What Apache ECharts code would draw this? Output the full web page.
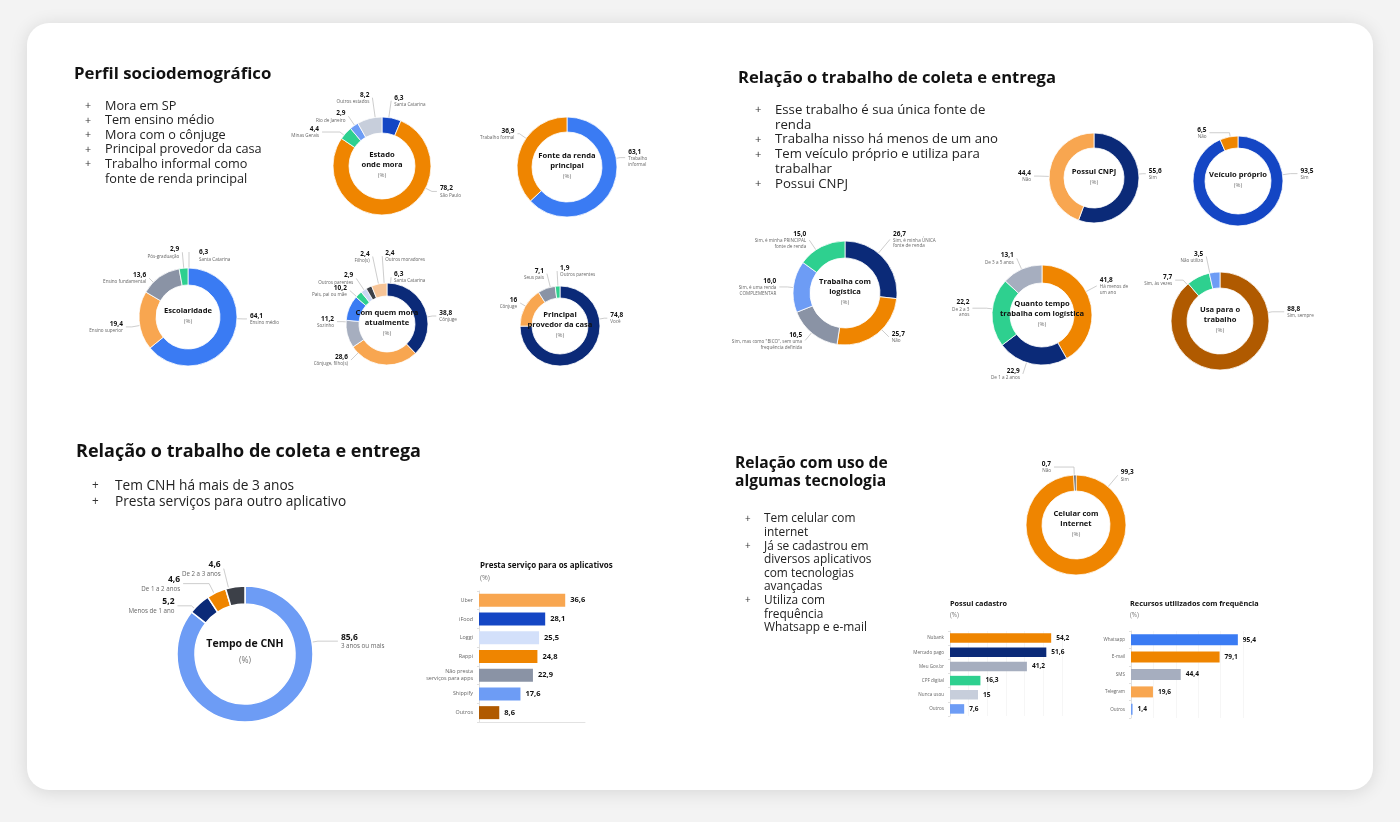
<!DOCTYPE html>
<html><head><meta charset="utf-8">
<script src="https://cdn.jsdelivr.net/npm/echarts@6/dist/echarts.min.js"></script>
<style>html,body{margin:0;padding:0;background:#f3f3f3;}#main{width:1400px;height:822px;}</style>
</head><body><div id="main"></div>
<script>
// ---------- DATA ----------
const estadoCats = ['Santa Catarina','São Paulo','Minas Gerais','Rio de Janeiro','Outros estados'];
const estadoVals = [6.3, 78.2, 4.4, 2.9, 8.2];
const rendaCats = ['Trabalho\ninformal','Trabalho formal'];
const rendaVals = [63.1, 36.9];
const escolCats = ['Ensino médio','Ensino superior','Ensino fundamental','Pós-graduação'];
const escolVals = [64.1, 19.4, 13.6, 2.9];
const escolStrayLabel = ['6,3','Santa Catarina'];
const moraCats = ['Cônjuge','Cônjuge, filho(s)','Sozinho','Pais, pai ou mãe','Outros parentes','Filho(s)','Outros moradores','Santa Catarina'];
const moraVals = [38.8, 28.6, 11.2, 10.2, 2.9, 2.4, 2.4, 6.3];
const provCats = ['Você','Cônjuge','Seus pais','Outros parentes'];
const provVals = [74.8, 16, 7.1, 1.9];
const cnpjCats = ['Sim','Não'];
const cnpjVals = [55.6, 44.4];
const veicCats = ['Sim','Não'];
const veicVals = [93.5, 6.5];
const logCats = ['Sim, é minha ÚNICA\nfonte de renda','Não','Sim, mas como "BICO", sem uma\nfrequência definida','Sim, é uma renda\nCOMPLEMENTAR','Sim, é minha PRINCIPAL\nfonte de renda'];
const logVals = [26.7, 25.7, 16.5, 16.0, 15.0];
const tempoCats = ['Há menos de\num ano','De 1 a 2 anos','De 2 a 3\nanos','De 3 a 5 anos'];
const tempoVals = [41.8, 22.9, 22.2, 13.1];
const usaCats = ['Sim, sempre','Sim, às vezes','Não utilizo'];
const usaVals = [88.8, 7.7, 3.5];
const celCats = ['Sim','Não'];
const celVals = [99.3, 0.7];
const cnhCats = ['3 anos ou mais','Menos de 1 ano','De 1 a 2 anos','De 2 a 3 anos'];
const cnhVals = [85.6, 5.2, 4.6, 4.6];

const appsCats = ['Uber','iFood','Loggi','Rappi','Não presta\nserviços para apps','Shippify','Outros'];
const appsVals = [36.6, 28.1, 25.5, 24.8, 22.9, 17.6, 8.6];
const cadCats = ['Nubank','Mercado pago','Meu Gov.br','CPF digital','Nunca usou','Outros'];
const cadVals = [54.2, 51.6, 41.2, 16.3, 15, 7.6];
const recCats = ['Whatsapp','E-mail','SMS','Telegram','Outros'];
const recVals = [95.4, 79.1, 44.4, 19.6, 1.4];

const bullets1 = ['Mora em SP','Tem ensino médio','Mora com o cônjuge','Principal provedor da casa','Trabalho informal como\nfonte de renda principal'];
const bullets2 = ['Esse trabalho é sua única fonte de\nrenda','Trabalha nisso há menos de um ano','Tem veículo próprio e utiliza para\ntrabalhar','Possui CNPJ'];
const bullets3 = ['Tem CNH há mais de 3 anos','Presta serviços para outro aplicativo'];
const bullets4 = ['Tem celular com\ninternet','Já se cadastrou em\ndiversos aplicativos\ncom tecnologias\navançadas','Utiliza com\nfrequência\nWhatsapp e e-mail'];

// ---------- STYLE ----------
const C = {
  orange:'#EF8500', orangeL:'#F8A650', navy:'#0B2A78', royal:'#1446C4', blue:'#3A7BF3',
  lblue:'#6D9CF5', gray:'#8A93A5', grayL:'#A6AEBF', pale:'#C7CEDB', paleBlue:'#D3E0FA',
  green:'#2ED08F', brown:'#B05A00', dark:'#3C4048', peach:'#F6C497', vpale:'#C9D7F4'
};
const FONT = '"Open Sans", "Noto Sans", sans-serif';
const fmt1 = v => v.toFixed(1).replace('.', ',');
const fmtRaw = v => String(v).replace('.', ',');

// label placement style: [angle clockwise from 12h, radial gap, horizontal run, forced side]
function makeLabelLayout(L) {
  return function (params) {
    const s = L.ls && L.ls[params.dataIndex];
    if (!s) return {};
    const [th, d, h, mode] = s;
    const a = th * Math.PI / 180, R = L.r[1], cx = L.c[0], cy = L.c[1];
    const p0 = [cx + R * Math.sin(a), cy - R * Math.cos(a)];
    const p1 = [cx + (R + d) * Math.sin(a), cy - (R + d) * Math.cos(a)];
    const right = mode ? mode === 'l' : Math.sin(a) >= 0;
    const p2 = [p1[0] + (right ? h : -h), p1[1]];
    return { x: p2[0] + (right ? 3 : -3), y: p2[1], align: right ? 'left' : 'right', verticalAlign: 'middle', labelLinePoints: [p0, p1, p2] };
  };
}

function donut(cats, vals, L) {
  const big = L.big;
  return {
    type: 'pie', center: L.c, radius: L.r, startAngle: 90, clockwise: true,
    avoidLabelOverlap: false, silent: true, animation: false,
    itemStyle: { borderColor: '#fff', borderWidth: big ? 1.5 : 0.8 },
    label: {
      show: true, position: 'outside', fontFamily: FONT,
      formatter: p => '{v|' + (L.fmt || fmt1)(p.value) + '}\n{n|' + p.name + '}',
      rich: {
        v: { fontSize: big ? 8.5 : 6.5, fontWeight: 'bold', color: '#111', lineHeight: big ? 11 : 8, fontFamily: FONT },
        n: { fontSize: big ? 6.2 : 4.6, color: '#666', lineHeight: big ? 8 : 5.6, fontFamily: FONT }
      }
    },
    labelLine: { show: true, length: 6, length2: 6, lineStyle: { color: '#b8b8b8', width: 0.7 } },
    labelLayout: makeLabelLayout(L),
    data: cats.map((n, i) => ({ name: n, value: vals[i], itemStyle: { color: L.colors[i] } }))
  };
}

const pies = [
  [estadoCats, estadoVals, { c:[382,166], r:[33,49], colors:[C.royal,C.orange,C.green,C.lblue,C.pale], t:['Estado','onde mora'],
     ls:[[8,17,0],[117,7,5],[309,5,18],[326,11,0],[352,20,0]] }],
  [rendaCats, rendaVals, { c:[567,167], r:[35,50], colors:[C.blue,C.orange], t:['Fonte da renda','principal'],
     ls:[[80,4,5],[305,8,2]] }],
  [escolCats, escolVals, { c:[188,317], r:[32,49], colors:[C.blue,C.orangeL,C.gray,C.green], t:['Escolaridade'],
     ls:[[92,6,4],[260,8,6],[315,6,0],[355,16,0]] }],
  [moraCats, moraVals, { c:[387,324], r:[28,41], colors:[C.navy,C.orangeL,C.grayL,C.blue,C.green,C.vpale,C.dark,C.peach], t:['Com quem mora','atualmente'],
     ls:[[80,5,4],[225,10,0],[273,4,5],[312,9,0],[326,14,0],[348,28,0],[356,27,0,'l'],[5,6,0]] }],
  [provCats, provVals, { c:[560,326], r:[28,40], colors:[C.navy,C.orangeL,C.gray,C.green], t:['Principal','provedor da casa'], fmt: fmtRaw,
     ls:[[80,5,3],[300,6,0],[346,14,0],[357,15,0,'l']] }],
  [cnpjCats, cnpjVals, { c:[1094,178], r:[30,45], colors:[C.navy,C.orangeL], t:['Possui CNPJ'],
     ls:[[85,4,3],[272,10,5]] }],
  [veicCats, veicVals, { c:[1238,181], r:[33,45], colors:[C.royal,C.orange], t:['Veículo próprio'],
     ls:[[82,8,7],[350,4,20]] }],
  [logCats, logVals, { c:[845,293], r:[35,52], colors:[C.navy,C.orange,C.gray,C.lblue,C.green], t:['Trabalha com','logística'],
     ls:[[40,18,0],[135,10,0],[220,10,0],[276,6,8],[326,12,0]] }],
  [tempoCats, tempoVals, { c:[1042,315], r:[32,50], colors:[C.orange,C.navy,C.green,C.grayL], t:['Quanto tempo','trabalha com logística'],
     ls:[[62,12,0],[198,12,0],[277,6,14],[336,12,0]] }],
  [usaCats, usaVals, { c:[1220,321], r:[33,49], colors:[C.brown,C.green,C.lblue], t:['Usa para o','trabalho'],
     ls:[[80,4,12],[318,6,8],[348,17,0]] }],
  [celCats, celVals, { c:[1076,525], r:[34,50], colors:[C.orange,C.dark], t:['Celular com','internet'],
     ls:[[40,15,0],[358,8,20]] }],
  [cnhCats, cnhVals, { c:[245,654], r:[50,68], colors:[C.lblue,C.navy,C.orange,C.dark], t:['Tempo de CNH'], big:true,
     ls:[[80,6,20],[312,4,14],[333,11,26],[346,20,0]] }]
];

// ---------- GRAPHICS ----------
const G = [];
G.push({ type:'rect', shape:{x:27,y:23,width:1346,height:767,r:22}, style:{fill:'#fff', shadowBlur:18, shadowColor:'rgba(0,0,0,0.12)', shadowOffsetY:2}, z:-10 });
function txt(x, y, s, st) { G.push({ type:'text', x, y, style: Object.assign({ text:s, fontFamily:FONT, fill:'#111' }, st) }); }
function heading(x, y, s, fs) { txt(x, y, s, { fontSize: fs || 16.5, fontWeight:'bold', textVerticalAlign:'middle' }); }
function bulletList(xb, xt, y0, lh, items, fs) {
  let y = y0;
  items.forEach(it => {
    txt(xb, y, '+', { fontSize: fs - 2, fill:'#333', textVerticalAlign:'middle' });
    it.split('\n').forEach(line => { txt(xt, y, line, { fontSize: fs, fill:'#222', textVerticalAlign:'middle' }); y += lh; });
  });
}
heading(74, 74, 'Perfil sociodemográfico', 16.8);
bulletList(85, 105, 106, 14.6, bullets1, 12.7);
heading(738, 78, 'Relação o trabalho de coleta e entrega', 16.6);
bulletList(755, 775, 110, 14.8, bullets2, 13.2);
heading(76, 452, 'Relação o trabalho de coleta e entrega', 18);
bulletList(92, 115, 486, 16, bullets3, 13.7);
heading(735, 464, 'Relação com uso de', 15.6);
heading(735, 482, 'algumas tecnologia', 15.6);
bulletList(745, 764, 519, 13.6, bullets4, 11.9);

// donut center titles
pies.forEach(([cats, vals, L]) => {
  const big = L.big;
  const t = L.t.map(s => '{t|' + s + '}').join('\n') + '\n{p|(%)}';
  G.push({ type:'text', x:L.c[0], y:L.c[1], z:10, style:{ text:t, textAlign:'center', textVerticalAlign:'middle', fontFamily:FONT,
    rich:{ t:{ fontSize: big ? 10.5 : 7.6, fontWeight:'bold', fill:'#111', lineHeight: big ? 14 : 9.5, fontFamily:FONT },
           p:{ fontSize: big ? 8.5 : 6, fill:'#777', lineHeight: big ? 20 : 12, fontFamily:FONT } } } });
});
// stray label on Escolaridade
G.push({ type:'polyline', shape:{ points:[[189,268],[189,252]] }, style:{ stroke:'#b8b8b8', lineWidth:0.7, fill:null } });
txt(199, 256, escolStrayLabel[0], { fontSize:6.5, fontWeight:'bold', textVerticalAlign:'bottom' });
txt(199, 257, escolStrayLabel[1], { fontSize:4.6, fill:'#666', textVerticalAlign:'top' });

// bar titles
txt(480, 566, 'Presta serviço para os aplicativos', { fontSize:8, fontWeight:'bold', textVerticalAlign:'middle' });
txt(480, 578, '(%)', { fontSize:7, fill:'#777', textVerticalAlign:'middle' });
txt(950, 604, 'Possui cadastro', { fontSize:7.3, fontWeight:'bold', textVerticalAlign:'middle' });
txt(950, 615, '(%)', { fontSize:6.3, fill:'#777', textVerticalAlign:'middle' });
txt(1130, 604, 'Recursos utilizados com frequência', { fontSize:7.3, fontWeight:'bold', textVerticalAlign:'middle' });
txt(1130, 615, '(%)', { fontSize:6.3, fill:'#777', textVerticalAlign:'middle' });

// ---------- BARS ----------
const grids = [
  { left:479, top:591, width:106, height:131 },
  { left:950, top:631, width:112, height:85 },
  { left:1131, top:631, width:112, height:87 }
];
const barSets = [
  { cats: appsCats, vals: appsVals, max: 45, colors:[C.orangeL,C.royal,C.paleBlue,C.orange,C.gray,C.lblue,C.brown], bw: 13, fmt: fmt1, fs: 7.5, cfs: 5.4 },
  { cats: cadCats, vals: cadVals, max: 60, colors:[C.orange,C.navy,C.grayL,C.green,C.pale,C.lblue], bw: 9.5, fmt: fmtRaw, fs: 6.6, cfs: 4.6 },
  { cats: recCats, vals: recVals, max: 100, colors:[C.blue,C.orange,C.grayL,C.orangeL,C.lblue], bw: 11, fmt: fmt1, fs: 6.6, cfs: 4.6 }
];
const xAxes = [], yAxes = [], barSeries = [];
barSets.forEach((b, i) => {
  xAxes.push({ gridIndex:i, type:'value', min:0, max:b.max, axisLabel:{show:false}, axisTick:{show:false},
    axisLine:{ show: i === 0, lineStyle:{color:'#e2e2e2'} }, splitLine:{ show: i > 0, lineStyle:{ color:'#f6f6f6' } } });
  yAxes.push({ gridIndex:i, type:'category', inverse:true, data:b.cats,
    axisLine:{ lineStyle:{ color:'#e0e0e0' } }, axisTick:{ show:true, length:2, lineStyle:{ color:'#e0e0e0' } },
    axisLabel:{ fontSize:b.cfs, color:'#666', fontFamily:FONT, margin:6, lineHeight: b.cfs + 1.5 } });
  barSeries.push({ type:'bar', xAxisIndex:i, yAxisIndex:i, barWidth:b.bw, silent:true, animation:false,
    data: b.vals.map((v, k) => ({ value:v, itemStyle:{ color:b.colors[k] } })),
    label:{ show:true, position:'right', distance:5, formatter: p => b.fmt(p.value), fontSize:b.fs, fontWeight:'bold', color:'#111', fontFamily:FONT } });
});

const chart = echarts.init(document.getElementById('main'));
chart.setOption({
  backgroundColor: '#f3f3f3',
  animation: false,
  textStyle: { fontFamily: FONT },
  graphic: G,
  grid: grids,
  xAxis: xAxes,
  yAxis: yAxes,
  series: pies.map(([c, v, L]) => donut(c, v, L)).concat(barSeries)
});
</script>
</body></html>
